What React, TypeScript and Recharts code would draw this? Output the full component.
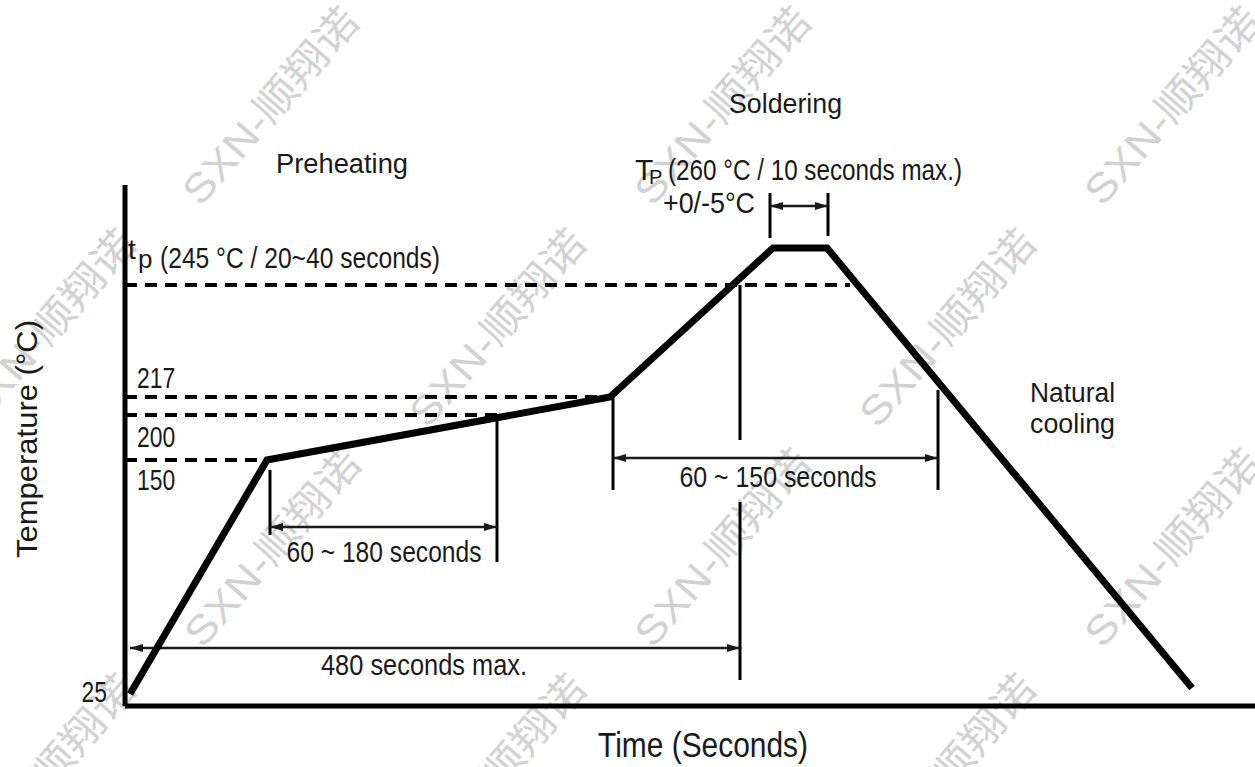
import React from 'react';
import { LineChart, Line, XAxis, YAxis, ReferenceLine, ReferenceDot } from 'recharts';

// Reflow soldering profile. The original drawing is schematic (not to scale),
// so both axes use drawing units: time units across, level units up.
const profileTime = [5, 142, 485, 648, 702, 1067];
const profileLevel = [12, 246, 309, 458, 458, 18];

// temperature marks along the left axis
const tempLabels = ['25', '150', '200', '217'];
const tempLevels = [12, 246, 291, 309];

// dashed guide lines for 150 / 200 / 217 / 245 °C
const guideLevels = [246, 291, 309, 421];
const guideEnds = [142, 372, 485, 725];

// time spans drawn as double arrows
const spanLabels = ['60 ~ 180 seconds', '60 ~ 150 seconds', '480 seconds max.', ''];
const spanFrom = [145, 488, 5, 645];
const spanTo = [372, 813, 615, 703];
const spanLevel = [179, 248, 58, 500];

// extension lines at the span ends: [time, top level, bottom level]
const extLines = [
  [145, 236, 171], [372, 291, 144],
  [488, 309, 216], [813, 316, 216],
  [615, 421, 266], [615, 204, 26],
  [645, 513, 468], [703, 513, 470],
];

const data = profileTime.map((t, i) => ({ t, level: profileLevel[i] }));

const NARROW = "'Liberation Sans Narrow', 'Liberation Sans', Arial, sans-serif";
const ARIAL = "'Liberation Sans', Arial, sans-serif";
const INK = '#1a1a1a';

// where each span label sits (center x, baseline) and its drawn width
const spanLabelPos = [[259, 144, 195], [653, 219, 197], [299, 31, 206]];

// label placement next to the temperature marks
const tickPlace: { [k: string]: { dx: number; dy: number; anchor: string } } = {
  '25': { dx: -18, dy: 8, anchor: 'end' },
  '150': { dx: 12, dy: 30, anchor: 'start' },
  '200': { dx: 12, dy: 32, anchor: 'start' },
  '217': { dx: 12, dy: -9, anchor: 'start' },
};

const watermarks = [
  [273, 108], [725, 108], [1175, 108],
  [50, 330], [500, 330], [950, 330],
  [275, 550], [725, 550], [1175, 550],
  [50, 775], [500, 775], [950, 775],
];

const AXIS_X = 125;

const TempTick = (props: any) => {
  const { y, payload } = props;
  const i = tempLevels.indexOf(payload.value);
  const label = tempLabels[i];
  const pl = tickPlace[label];
  if (!pl) return null;
  return (
    <text
      x={AXIS_X + pl.dx}
      y={y + pl.dy}
      textAnchor={pl.anchor}
      fontFamily={NARROW}
      fontSize={29}
      fill={INK}
      textLength={label.length * 12.7}
      lengthAdjust="spacingAndGlyphs"
    >
      {label}
    </text>
  );
};

const ArrowShape = (p: any) => {
  const { x1, y1, x2, y2 } = p;
  const a = Math.atan2(y2 - y1, x2 - x1);
  const L = 13;
  const W = 4;
  const head = (x: number, y: number, ang: number) => {
    const bx = x - L * Math.cos(ang);
    const by = y - L * Math.sin(ang);
    return `${x},${y} ${bx - W * Math.sin(ang)},${by + W * Math.cos(ang)} ${bx + W * Math.sin(ang)},${by - W * Math.cos(ang)}`;
  };
  return (
    <g>
      <line x1={x1} y1={y1} x2={x2} y2={y2} stroke={INK} strokeWidth={2.5} />
      <polygon points={head(x2, y2, a)} fill={INK} />
      <polygon points={head(x1, y1, a + Math.PI)} fill={INK} />
    </g>
  );
};

const note = (key: string, x: number, y: number, draw: (cx: number, cy: number) => any) => (
  <ReferenceDot
    key={key}
    x={x}
    y={y}
    r={0}
    ifOverflow="visible"
    fill="none"
    stroke="none"
    label={{ content: (p: any) => (p.viewBox ? draw(p.viewBox.x, p.viewBox.y) : null) }}
  />
);

const txt = (s: string, size: number, family: string, anchor = 'start', len?: number) =>
  (cx: number, cy: number) => (
    <text
      x={cx}
      y={cy}
      fontSize={size}
      fontFamily={family}
      fill={INK}
      textAnchor={anchor}
      textLength={len}
      lengthAdjust={len ? 'spacingAndGlyphs' : undefined}
    >
      {s}
    </text>
  );

export default function App() {
  return (
    <div style={{ position: 'absolute', left: 0, top: 0, width: 1255, height: 767, background: '#fff' }}>
      <svg width={1255} height={767} style={{ position: 'absolute', left: 0, top: 0 }}>
        {watermarks.map(([cx, cy], i) => (
          <text
            key={i}
            x={cx}
            y={cy}
            textAnchor="middle"
            dominantBaseline="middle"
            transform={`rotate(-49 ${cx} ${cy})`}
            fontSize={40}
            fontFamily="'Liberation Sans', 'Noto Sans CJK SC', sans-serif"
            fill="#d2d2d2"
            textLength={245}
            lengthAdjust="spacingAndGlyphs"
          >
            SXN-顺翔诺
          </text>
        ))}
      </svg>
      <div style={{ position: 'absolute', left: 0, top: 0 }}>
        <LineChart width={1255} height={767} data={data} margin={{ top: 185, right: 0, bottom: 11, left: 25 }}>
          <XAxis
            type="number"
            dataKey="t"
            domain={[0, 1130]}
            allowDataOverflow
            height={50}
            tick={false}
            tickLine={false}
            axisLine={{ stroke: '#000', strokeWidth: 5 }}
            label={{
              content: (p: any) => (
                <text
                  x={AXIS_X + 578}
                  y={p.viewBox.y + 51}
                  textAnchor="middle"
                  fontSize={35}
                  fontFamily={NARROW}
                  fill={INK}
                  textLength={210}
                  lengthAdjust="spacingAndGlyphs"
                >
                  Time (Seconds)
                </text>
              ),
            }}
          />
          <YAxis
            type="number"
            domain={[0, 521]}
            allowDataOverflow
            width={100}
            ticks={tempLevels}
            interval={0}
            tickLine={false}
            tick={TempTick}
            axisLine={{ stroke: '#000', strokeWidth: 5 }}
            label={{
              content: (p: any) => {
                const x = AXIS_X - 88;
                const y = p.viewBox.y + 254;
                return (
                  <text
                    x={x}
                    y={y}
                    transform={`rotate(-90 ${x} ${y})`}
                    textAnchor="middle"
                    fontSize={30}
                    fontFamily={ARIAL}
                    fill={INK}
                    textLength={238}
                    lengthAdjust="spacingAndGlyphs"
                  >
                    Temperature (°C)
                  </text>
                );
              },
            }}
          />

          {guideLevels.map((lv, i) => (
            <ReferenceLine
              key={`g${i}`}
              segment={[{ x: 0, y: lv }, { x: guideEnds[i], y: lv }]}
              stroke="#000"
              strokeWidth={4}
              strokeDasharray="12 8"
            />
          ))}

          {extLines.map(([x, top, bottom], i) => (
            <ReferenceLine
              key={`e${i}`}
              segment={[{ x, y: top }, { x, y: bottom }]}
              stroke="#000"
              strokeWidth={3}
            />
          ))}

          {spanFrom.map((x0, i) => (
            <ReferenceLine
              key={`s${i}`}
              segment={[{ x: x0, y: spanLevel[i] }, { x: spanTo[i], y: spanLevel[i] }]}
              shape={ArrowShape}
            />
          ))}

          <Line
            type="linear"
            dataKey="level"
            stroke="#000"
            strokeWidth={7}
            strokeLinejoin="miter"
            dot={false}
            activeDot={false}
            isAnimationActive={false}
          />

          {spanLabelPos.map(([cx, cy, len], i) =>
            note(`sl${i}`, cx, cy, txt(spanLabels[i], 30, NARROW, 'middle', len))
          )}

          {note('pre', 151, 533, txt('Preheating', 27, ARIAL, 'start', 132))}
          {note('sol', 604, 593, txt('Soldering', 27, ARIAL, 'start', 113))}
          {note('nat', 905, 304, txt('Natural', 27, ARIAL, 'start', 85))}
          {note('cool', 905, 273, txt('cooling', 27, ARIAL, 'start', 85))}

          {note('T', 510, 526, txt('T', 30, NARROW))}
          {note('Tsub', 524, 522, txt('P', 20, NARROW))}
          {note('Tp', 543, 526, txt('(260 °C / 10 seconds max.)', 30, NARROW, 'start', 294))}
          {note('tol', 538, 493, txt('+0/-5°C', 30, NARROW, 'start', 92))}

          {note('t', 3, 447, txt('t', 28, NARROW))}
          {note('tsub', 13, 438, txt('p', 26, NARROW))}
          {note('tp', 35, 438, txt('(245 °C / 20~40 seconds)', 30, NARROW, 'start', 280))}
        </LineChart>
      </div>
    </div>
  );
}
